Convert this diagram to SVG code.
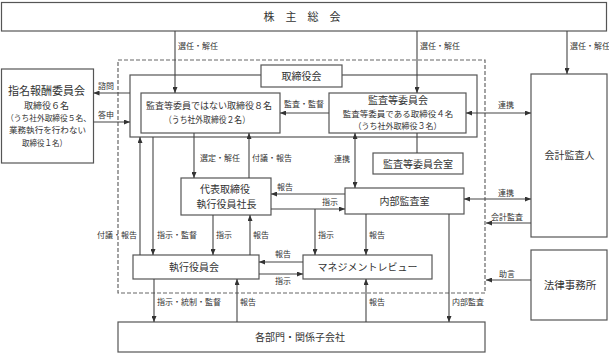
<svg xmlns="http://www.w3.org/2000/svg" width="609" height="357" viewBox="0 0 609 357">
<defs>
<marker id="ah" viewBox="0 0 6 5" refX="6" refY="2.5" markerWidth="6" markerHeight="5" markerUnits="userSpaceOnUse" orient="auto-start-reverse">
<path d="M0,0 L6,2.5 L0,5 z" fill="#333"/>
</marker>
<style>
text{font-family:"Noto Sans CJK JP","Noto Sans CJK SC",sans-serif;fill:#333}
.box{fill:#fff;stroke:#555;stroke-width:1.2}
.frame{fill:none;stroke:#555;stroke-width:1.2}
.dash{fill:none;stroke:#666;stroke-width:1.2;stroke-dasharray:4 2}
.c{fill:none;stroke:#444;stroke-width:1.1}
.a{fill:none;stroke:#444;stroke-width:1.1;marker-end:url(#ah)}
.b{fill:none;stroke:#444;stroke-width:1.1;marker-end:url(#ah);marker-start:url(#ah)}
.t{font-size:10px;text-anchor:middle}
.s{font-size:9px;text-anchor:middle}
.l{font-size:8px}
.lm{font-size:8px;text-anchor:middle}
.le{font-size:8px;text-anchor:end}
</style>
</defs>

<rect class="dash" x="118" y="60" width="367" height="233"/>

<g id="shareholders">
<rect class="box" x="1.5" y="2.5" width="605" height="28.5"/>
<text class="t" x="302" y="21" style="font-size:11px">株　主　総　会</text>
</g>

<g id="board">
<rect class="frame" x="130" y="75" width="347" height="62"/>
<rect class="box" x="261" y="65" width="81" height="22"/>
<text class="t" x="301.5" y="80">取締役会</text>
</g>

<g id="directors">
<rect class="box" x="141" y="93" width="139" height="40"/>
<text class="s" x="209" y="109">監査等委員ではない取締役８名</text>
<text class="s" x="207" y="122.5" textLength="86" lengthAdjust="spacingAndGlyphs">（うち社外取締役２名）</text>
</g>

<g id="audit-committee">
<rect class="box" x="329" y="93" width="137" height="40"/>
<text class="t" x="398" y="103.6">監査等委員会</text>
<text class="s" x="398" y="116.6" style="font-size:8.5px">監査等委員である取締役４名</text>
<text class="s" x="397.5" y="129" style="font-size:8.5px" textLength="88" lengthAdjust="spacingAndGlyphs">（うち社外取締役３名）</text>
</g>

<g id="audit-office">
<rect class="box" x="373" y="153" width="90" height="21"/>
<text class="t" x="418" y="167.5">監査等委員会室</text>
</g>

<g id="nomination">
<rect class="box" x="1.5" y="69" width="92" height="94"/>
<text class="t" x="46.5" y="94.5" style="font-size:11px">指名報酬委員会</text>
<text class="s" x="46.5" y="108.5">取締役６名</text>
<text class="s" x="48.5" y="120.5" style="font-size:8px" textLength="85" lengthAdjust="spacingAndGlyphs">（うち社外取締役５名、</text>
<text class="s" x="47.5" y="133" style="font-size:8.5px" textLength="77" lengthAdjust="spacingAndGlyphs">業務執行を行わない</text>
<text class="s" x="44.5" y="145.5" style="font-size:8.5px" textLength="45" lengthAdjust="spacingAndGlyphs">取締役１名）</text>
</g>

<g id="president">
<rect class="box" x="181" y="178" width="90" height="37"/>
<text class="t" x="225" y="192.5">代表取締役</text>
<text class="t" x="226.5" y="207.5">執行役員社長</text>
</g>

<g id="internal-audit">
<rect class="box" x="345" y="188" width="119" height="26"/>
<text class="t" x="404.5" y="204.5">内部監査室</text>
</g>

<g id="exec-committee">
<rect class="box" x="133" y="255" width="126" height="24"/>
<text class="t" x="194" y="270.5">執行役員会</text>
</g>

<g id="management-review">
<rect class="box" x="303" y="255" width="129" height="24"/>
<text class="t" x="367.5" y="270.5">マネジメントレビュー</text>
</g>

<g id="departments">
<rect class="box" x="118" y="322" width="367" height="30"/>
<text class="t" x="300" y="340.5">各部門・関係子会社</text>
</g>

<g id="accounting-auditor">
<rect class="box" x="531" y="74" width="76" height="163"/>
<text class="t" x="569.5" y="158.5">会計監査人</text>
</g>

<g id="law-firm">
<rect class="box" x="531" y="250" width="76" height="70"/>
<text class="t" x="570" y="288.5" style="font-size:10.5px">法律事務所</text>
</g>

<g id="connectors">
<path class="a" d="M175,31 V93"/>
<text class="l" x="178" y="49">選任・解任</text>
<path class="a" d="M417,31 V93"/>
<text class="l" x="420" y="49">選任・解任</text>
<path class="a" d="M567,31 V74"/>
<text class="l" x="570" y="49">選任・解任</text>

<path class="a" d="M130,93 H93.5"/>
<text class="l" x="98" y="89">諮問</text>
<path class="a" d="M93.5,122 H130"/>
<text class="l" x="98" y="118">答申</text>

<path class="a" d="M329,113 H280"/>
<text class="l" x="284" y="107">監査・監督</text>
<path class="b" d="M466,113 H531"/>
<text class="lm" x="506" y="108">連携</text>

<path class="a" d="M194,133 V178"/>
<text class="l" x="200" y="161">選定・解任</text>
<path class="a" d="M249,178 V133"/>
<text class="l" x="252" y="161">付議・報告</text>

<path class="b" d="M355,133 V188"/>
<text class="le" x="350" y="162">連携</text>
<path class="c" d="M417,133 V153"/>

<path class="a" d="M345,194 H271"/>
<text class="l" x="277" y="190">報告</text>
<path class="a" d="M271,209 H345"/>
<text class="l" x="322" y="205">指示</text>
<path class="a" d="M315,209 V255"/>
<text class="l" x="318" y="238">指示</text>
<path class="a" d="M366,214 V255"/>
<text class="l" x="369" y="238">報告</text>

<path class="a" d="M140,255 V137"/>
<text class="l" x="97" y="238">付議・報告</text>
<path class="a" d="M153,137 V255"/>
<text class="l" x="157" y="238">指示・監督</text>
<path class="a" d="M213,215 V255"/>
<text class="l" x="216" y="238">指示</text>
<path class="a" d="M250,255 V215"/>
<text class="l" x="253" y="238">報告</text>

<path class="a" d="M303,262 H259"/>
<text class="l" x="275" y="257">報告</text>
<path class="a" d="M259,274 H303"/>
<text class="l" x="275" y="284">指示</text>

<path class="a" d="M154,279 V322"/>
<text class="l" x="157" y="305">指示・統制・監督</text>
<path class="a" d="M237,322 V279"/>
<text class="l" x="240" y="305">報告</text>
<path class="a" d="M366,322 V279"/>
<text class="l" x="369" y="305">報告</text>
<path class="a" d="M449,214 V322"/>
<text class="l" x="452" y="305">内部監査</text>

<path class="b" d="M464,199 H531"/>
<text class="lm" x="506" y="196">連携</text>
<path class="a" d="M531,223 H486"/>
<text class="lm" x="507" y="220">会計監査</text>
<path class="a" d="M531,280 H486"/>
<text class="lm" x="507" y="277">助言</text>
</g>
</svg>
